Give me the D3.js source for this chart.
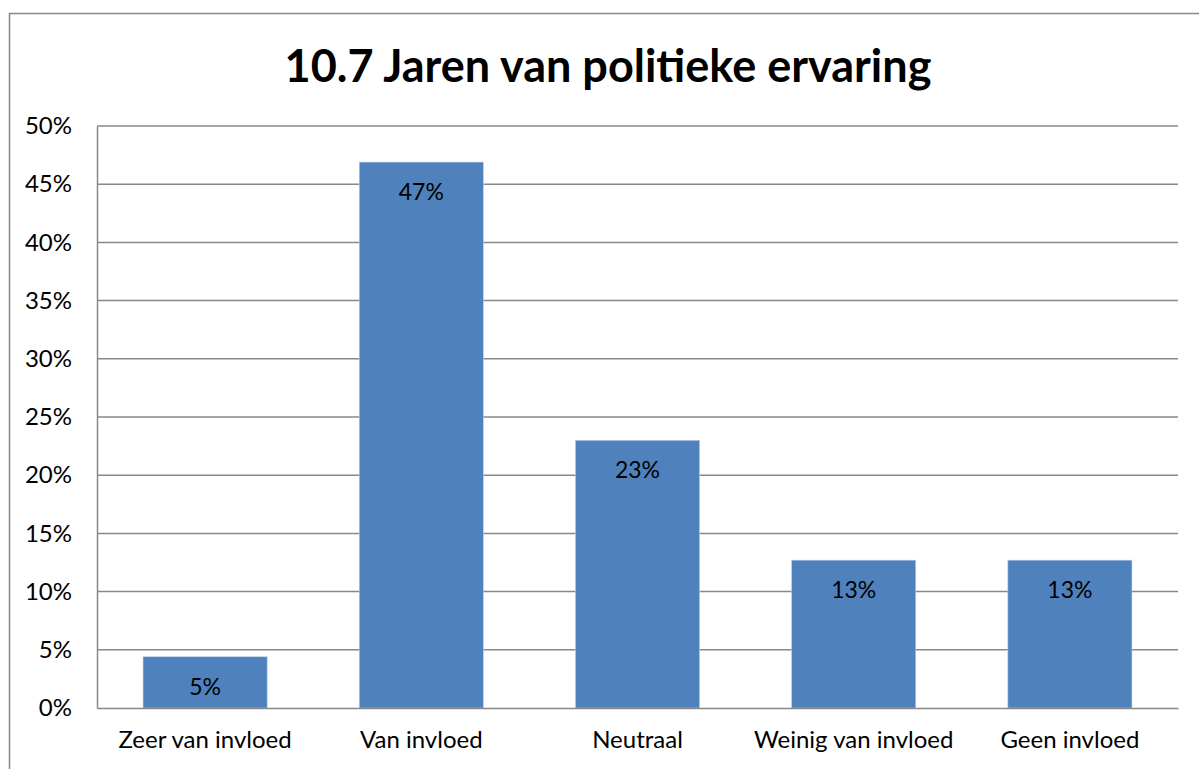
<!DOCTYPE html>
<html>
<head>
<meta charset="utf-8">
<script src="https://d3js.org/d3.v7.min.js"></script>
<style>
  html, body { margin: 0; padding: 0; background: #fff; overflow: hidden; }
  svg { display: block; }
  text { font-family: Lato, "Open Sans", sans-serif; }
</style>
</head>
<body>
<script>
const categories = ['Zeer van invloed', 'Van invloed', 'Neutraal', 'Weinig van invloed', 'Geen invloed'];
const values = [0.044, 0.469, 0.23, 0.127, 0.127];
const labels = ['5%', '47%', '23%', '13%', '13%'];
const yTicks = [0, 0.05, 0.1, 0.15, 0.2, 0.25, 0.3, 0.35, 0.4, 0.45, 0.5];
const title = '10.7 Jaren van politieke ervaring';

const width = 1199, height = 769;
const margin = {top: 126, right: 21, bottom: 61, left: 97};
const innerWidth = width - margin.left - margin.right,
      innerHeight = height - margin.top - margin.bottom;

const svg = d3.select('body').append('svg')
  .attr('width', width).attr('height', height);

// chart frame (only top and left edges fall inside the picture)
svg.append('path')
  .attr('d', `M9.5,${height} V13.5 H${width}`)
  .attr('fill', 'none').attr('stroke', '#888').attr('stroke-width', 1.5);

svg.append('text')
  .attr('x', 608).attr('y', 82)
  .attr('text-anchor', 'middle')
  .attr('font-size', 45).attr('font-weight', 'bold')
  .text(title);

const g = svg.append('g').attr('transform', `translate(${margin.left},${margin.top})`);

const x = d3.scaleBand().domain(categories).range([0, innerWidth])
  .paddingInner(0.426).paddingOuter(0.213);
const y = d3.scaleLinear().domain([0, 0.5]).range([innerHeight, 0]);

// gridlines
g.append('g').selectAll('line')
  .data(yTicks.slice(1))
  .join('line')
  .attr('x1', 0).attr('x2', innerWidth)
  .attr('y1', d => y(d)).attr('y2', d => y(d))
  .attr('stroke', '#888').attr('stroke-width', 1.5);

// y axis
const yAxis = g.append('g')
  .call(d3.axisLeft(y).tickValues(yTicks).tickFormat(d3.format('.0%')).tickSize(0).tickPadding(25));
yAxis.select('.domain').attr('stroke', '#888').attr('stroke-width', 1.5);
yAxis.selectAll('text').attr('font-size', 24).attr('fill', '#000')
  .style('font-family', 'Lato, "Open Sans", sans-serif');

// bars
g.append('g').selectAll('rect')
  .data(values)
  .join('rect')
  .attr('x', (d, i) => x(categories[i]))
  .attr('y', d => y(d))
  .attr('width', x.bandwidth())
  .attr('height', d => innerHeight - y(d))
  .attr('fill', '#4F81BD')
  .attr('stroke', '#b9cde5').attr('stroke-width', 0.6);

// data labels
g.append('g').selectAll('text')
  .data(values)
  .join('text')
  .attr('x', (d, i) => x(categories[i]) + x.bandwidth() / 2)
  .attr('y', d => y(d) + 38)
  .attr('text-anchor', 'middle')
  .attr('font-size', 23)
  .attr('fill', '#000')
  .text((d, i) => labels[i]);

// x axis
const xAxis = g.append('g')
  .attr('transform', `translate(0,${innerHeight})`)
  .call(d3.axisBottom(x).tickSize(0).tickPadding(23));
xAxis.select('.domain').attr('stroke', '#888').attr('stroke-width', 1.5);
xAxis.selectAll('text').attr('font-size', 24).attr('fill', '#000')
  .style('font-family', 'Lato, "Open Sans", sans-serif');
</script>
</body>
</html>
